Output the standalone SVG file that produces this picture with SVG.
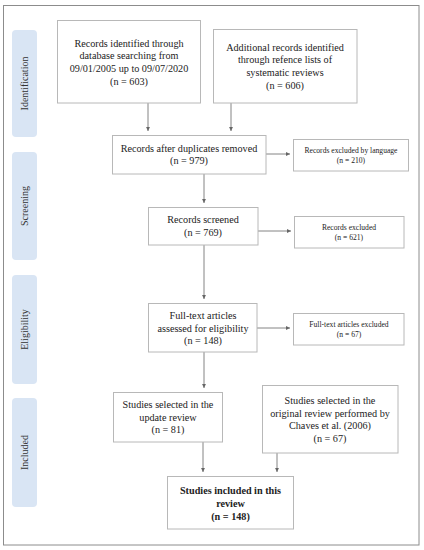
<svg xmlns="http://www.w3.org/2000/svg" width="424" height="550" viewBox="0 0 424 550" font-family="'Liberation Serif', 'Times New Roman', serif">
<defs>
<marker id="ah" markerWidth="5" markerHeight="5" refX="4.5" refY="2.5" orient="auto" markerUnits="userSpaceOnUse">
<path d="M0,0.3 L4.5,2.5 L0,4.7 Z" fill="#666"/>
</marker>
</defs>
<style>
.frame{fill:#fff;stroke:#8c8c8c;stroke-width:1}
.box{fill:#fff;stroke:#b8b8b8;stroke-width:1}
.side{fill:#d9e5f4;stroke:none}
text{font-family:'Liberation Serif','Times New Roman',serif}
.t{font-size:10.2px;fill:#222;text-anchor:middle}
.s{font-size:7.6px;fill:#222;text-anchor:middle}
.b{font-weight:bold}
.lab{font-size:10px;fill:#333;text-anchor:middle}
.c{fill:none;stroke:#777;stroke-width:0.9;marker-end:url(#ah)}
</style>
<rect width="424" height="550" fill="#fff"/>
<rect class="frame" x="3.5" y="5.5" width="415.5" height="539.5"/>

<g id="phase-identification">
<rect class="side" x="12" y="30" width="25" height="107" rx="4"/>
<text class="lab" transform="translate(27.9,83.5) rotate(-90)">Identification</text>
</g>
<g id="phase-screening">
<rect class="side" x="12" y="152" width="25" height="108" rx="4"/>
<text class="lab" transform="translate(27.9,206) rotate(-90)">Screening</text>
</g>
<g id="phase-eligibility">
<rect class="side" x="12" y="275" width="25" height="109" rx="4"/>
<text class="lab" transform="translate(27.9,329.5) rotate(-90)">Eligibility</text>
</g>
<g id="phase-included">
<rect class="side" x="12" y="398" width="25" height="109" rx="4"/>
<text class="lab" transform="translate(27.9,452.5) rotate(-90)">Included</text>
</g>

<g id="connectors">
<path class="c" d="M148,103 V131"/>
<path class="c" d="M231,103 V131"/>
<path class="c" d="M266,154 H290"/>
<path class="c" d="M204,174 V203"/>
<path class="c" d="M258,231 H291"/>
<path class="c" d="M204,245 V299"/>
<path class="c" d="M257,328 H290"/>
<path class="c" d="M204,352 V388"/>
<path class="c" d="M203,442 V472"/>
<path class="c" d="M277,453 V472"/>
</g>

<g id="n-db">
<rect class="box" x="57.5" y="20.5" width="143" height="82.5"/>
<text class="t" x="129" y="46.5">Records identified through</text>
<text class="t" x="129" y="59.2">database searching from</text>
<text class="t" x="129" y="71.9">09/01/2005 up to 09/07/2020</text>
<text class="t" x="129" y="84.6">(n = 603)</text>
</g>
<g id="n-additional">
<rect class="box" x="213.5" y="29.5" width="143.5" height="73.5"/>
<text class="t" x="285" y="50.5">Additional records identified</text>
<text class="t" x="285" y="63.2">through refence lists of</text>
<text class="t" x="285" y="75.9">systematic reviews</text>
<text class="t" x="285" y="88.6">(n = 606)</text>
</g>
<g id="n-dup">
<rect class="box" x="112.5" y="135.5" width="153.5" height="38.5"/>
<text class="t" x="189" y="151.5">Records after duplicates removed</text>
<text class="t" x="189" y="164">(n = 979)</text>
</g>
<g id="n-lang">
<rect class="box" x="293.5" y="139.5" width="115" height="31.5"/>
<text class="s" x="351" y="153">Records excluded by language</text>
<text class="s" x="351" y="163">(n = 210)</text>
</g>
<g id="n-screened">
<rect class="box" x="148.5" y="207.5" width="109.5" height="37.5"/>
<text class="t" x="203" y="223.3">Records screened</text>
<text class="t" x="203" y="235.8">(n = 769)</text>
</g>
<g id="n-excl1">
<rect class="box" x="294.5" y="216.5" width="109.5" height="31.5"/>
<text class="s" x="349" y="230">Records excluded</text>
<text class="s" x="349" y="240">(n = 621)</text>
</g>
<g id="n-fulltext">
<rect class="box" x="148.5" y="303.5" width="108.5" height="48.5"/>
<text class="t" x="203" y="319">Full-text articles</text>
<text class="t" x="203" y="331.5">assessed for eligibility</text>
<text class="t" x="203" y="344">(n = 148)</text>
</g>
<g id="n-excl2">
<rect class="box" x="293.5" y="313.5" width="110.5" height="31.5"/>
<text class="s" x="349" y="327">Full-text articles excluded</text>
<text class="s" x="349" y="337">(n = 67)</text>
</g>
<g id="n-update">
<rect class="box" x="113.5" y="392.5" width="109" height="49.5"/>
<text class="t" x="168" y="408">Studies selected in the</text>
<text class="t" x="168" y="420.5">update review</text>
<text class="t" x="168" y="433">(n = 81)</text>
</g>
<g id="n-original">
<rect class="box" x="262.5" y="385.5" width="135.5" height="67.5"/>
<text class="t" x="330" y="404">Studies selected in the</text>
<text class="t" x="330" y="416.5">original review performed by</text>
<text class="t" x="330" y="429">Chaves et al. (2006)</text>
<text class="t" x="330" y="441.5">(n = 67)</text>
</g>
<g id="n-final">
<rect class="box" x="167.5" y="476.5" width="126" height="52.5"/>
<text class="t b" x="230.5" y="493.5">Studies included in this</text>
<text class="t b" x="230.5" y="506.5">review</text>
<text class="t b" x="230.5" y="519.5">(n = 148)</text>
</g>
</svg>
